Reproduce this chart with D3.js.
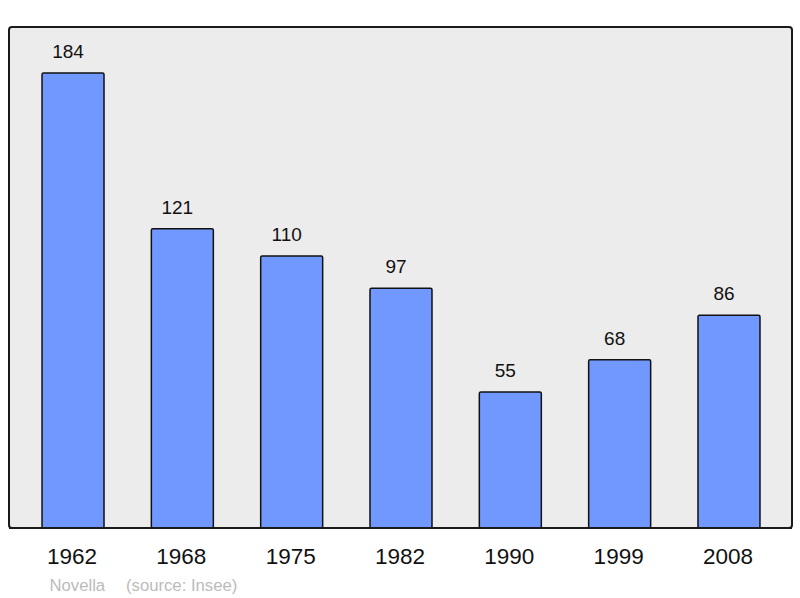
<!DOCTYPE html>
<html><head><meta charset="utf-8">
<script src="https://cdn.jsdelivr.net/npm/d3@7"></script>
<style>body{margin:0;background:#fff}svg{display:block}</style>
</head><body>
<script>
const years = ["1962","1968","1975","1982","1990","1999","2008"];
const population = [184,121,110,97,55,68,86];
const author = "Novella";
const source = "(source: Insee)";

const W = 800, H = 598;
const svg = d3.select("body").append("svg").attr("width", W).attr("height", H);
const frame = {x0: 9, x1: 792, y0: 27, y1: 528};
const font = "Liberation Sans, Arial, sans-serif";

svg.append("rect").attr("x", frame.x0).attr("y", frame.y0)
  .attr("width", frame.x1 - frame.x0).attr("height", frame.y1 - frame.y0)
  .attr("rx", 3).attr("fill", "#ececec").attr("stroke", "#1a1a1a").attr("stroke-width", 2);

const x = d3.scaleBand().domain(years).range([18.3, 783.7]).paddingInner(0.433).paddingOuter(0.217);
const y = d3.scaleLinear().domain([0, 184]).range([frame.y1, 73]);

svg.selectAll("rect.bar").data(years).join("rect").attr("class", "bar")
  .attr("x", d => x(d)).attr("width", x.bandwidth())
  .attr("y", (d, i) => y(population[i])).attr("height", (d, i) => frame.y1 - y(population[i]))
  .attr("rx", 1.5)
  .attr("fill", "#7198ff").attr("stroke", "#111").attr("stroke-width", 1.5);

svg.append("line").attr("x1", frame.x0).attr("x2", frame.x1).attr("y1", frame.y1).attr("y2", frame.y1)
  .attr("stroke", "#1a1a1a").attr("stroke-width", 2);

svg.selectAll("text.val").data(years).join("text").attr("class", "val")
  .attr("x", d => x(d) + x.bandwidth() / 2 - 5).attr("y", (d, i) => y(population[i]) - 15)
  .attr("text-anchor", "middle").attr("font-family", font)
  .attr("font-size", 19).attr("fill", "#111").text((d, i) => population[i]);

const axis = d3.axisBottom(x).tickSize(0).tickPadding(0);
const g = svg.append("g").attr("transform", `translate(0,${frame.y1})`).call(axis);
g.select(".domain").remove();
g.selectAll("text").attr("y", 36).attr("dy", 0).attr("dx", -1).attr("font-family", font)
  .attr("font-size", 22.5).attr("fill", "#111");

svg.append("text").attr("x", 49.5).attr("y", 591).attr("font-family", font)
  .attr("font-size", 16.7).attr("fill", "#bbb").text(author);
svg.append("text").attr("x", 126).attr("y", 591).attr("font-family", font)
  .attr("font-size", 16.7).attr("fill", "#bbb").text(source);
</script>
</body></html>
